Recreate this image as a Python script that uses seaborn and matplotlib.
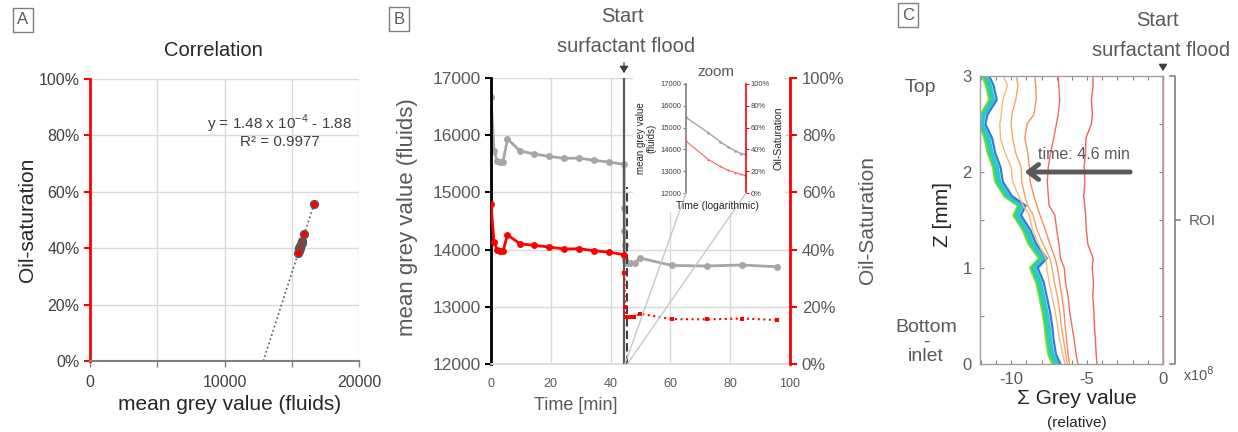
import matplotlib
matplotlib.use('Agg')
import matplotlib.pyplot as plt
import seaborn as sns
from matplotlib.patches import Rectangle, ConnectionPatch
from matplotlib.ticker import MultipleLocator, PercentFormatter

# ---- panel B data: mean grey value (fluids) and oil saturation over time ----
t_before = [0, 1, 2, 3, 4, 5.5, 9.7, 14.5, 19.5, 24.5, 29.5, 34.5, 39.5, 44.5]
grey_before = [16670, 15730, 15555, 15540, 15530, 15935, 15725, 15670, 15630,
               15595, 15600, 15560, 15530, 15490]
sat_before = [0.558, 0.427, 0.400, 0.396, 0.394, 0.452, 0.420, 0.415, 0.409,
              0.402, 0.403, 0.396, 0.391, 0.382]

t_after = [44.55, 44.6, 44.65, 44.7, 45.5, 46.5, 48.0, 49.8, 60.4, 72.1, 83.8, 95.5]
grey_after = [14727, 14318, 14086, 13823, 13766, 13760, 13760, 13853, 13724,
              13713, 13731, 13700]
t_sat_after = [44.6, 44.8, 45.2, 46.4, 47.9, 49.8, 60.4, 72.1, 83.8, 95.5]
sat_after = [0.318, 0.201, 0.166, 0.164, 0.164, 0.176, 0.157, 0.156, 0.159, 0.154]

t_flood = 44.5
t_dashed = 45.6
dashed_top = 15100

# inset (log time after flood)
t_zoom = [0.5, 2.8, 6.7, 12.6, 21.9, 34.7, 50]
grey_zoom = [15466, 14761, 14362, 14117, 13933, 13810, 13764]
sat_zoom = [0.475, 0.307, 0.245, 0.209, 0.187, 0.172, 0.156]

# ---- panel A: linear fit ----
fit_slope = 1.476e-4
fit_intercept = -1.902
fit_label = 'y = 1.48 x 10$^{\\mathregular{-4}}$ - 1.88\nR² = 0.9977'

# ---- panel C: vertical profiles (Z in mm, sum grey value x1e8) ----
z_mm = [0, 0.1, 0.25, 0.4, 0.55, 0.7, 0.85, 1.0, 1.1, 1.25, 1.4, 1.55, 1.65,
        1.75, 1.9, 2.05, 2.2, 2.35, 2.5, 2.6, 2.75, 2.9, 3.0]
prof_red1 = [-4.35, -4.4, -4.45, -4.52, -4.55, -4.62, -4.58, -4.66, -4.6, -4.95,
             -5.05, -5.1, -5.15, -5.22, -5.14, -5.2, -5.1, -5.08, -4.72, -4.65,
             -4.72, -4.6, -4.62]
prof_red2 = [-5.6, -5.72, -5.85, -6.0, -6.15, -6.25, -6.42, -6.5, -6.75, -6.85,
             -7.0, -7.12, -7.5, -7.55, -7.62, -7.55, -7.4, -7.2, -7.02, -6.9,
             -6.8, -6.86, -6.9]
prof_or3 = [-6.15, -6.25, -6.35, -6.45, -6.52, -6.65, -6.8, -6.95, -7.1, -7.45,
            -7.75, -8.1, -8.3, -8.5, -8.75, -8.8, -8.9, -9.1, -8.95, -8.5,
            -8.35, -8.38, -8.45]
prof_or4 = [-6.3, -6.4, -6.55, -6.7, -6.8, -6.95, -7.15, -7.3, -7.45, -7.9,
            -8.3, -8.55, -8.9, -9.1, -9.3, -9.35, -9.7, -9.9, -10.0, -9.95,
            -9.7, -9.55, -9.65]
prof_or5 = [-6.45, -6.6, -6.8, -6.95, -7.1, -7.3, -7.5, -7.65, -7.7, -8.2,
            -8.6, -8.8, -9.2, -9.5, -9.9, -10.0, -10.4, -10.7, -10.75, -10.65,
            -10.55, -10.25, -10.5]
bundle_blue = [-6.75, -7.05, -7.2, -7.3, -7.45, -7.65, -7.85, -8.25, -7.65, -8.35,
               -8.75, -9.35, -9.05, -9.95, -10.55, -10.7, -11.05, -11.25, -11.7,
               -11.55, -10.95, -11.15, -11.45]
bundle_cyan = [-6.95, -7.25, -7.4, -7.5, -7.65, -7.85, -8.05, -8.45, -7.85, -8.55,
               -8.95, -9.55, -9.25, -10.15, -10.75, -10.9, -11.25, -11.45, -11.9,
               -11.75, -11.15, -11.35, -11.65]
bundle_teal = [-7.1, -7.4, -7.55, -7.65, -7.8, -8.0, -8.2, -8.6, -8.0, -8.7,
               -9.1, -9.7, -9.4, -10.3, -10.9, -11.05, -11.4, -11.6, -12.0,
               -11.85, -11.3, -11.5, -11.75]
bundle_lime = [-7.25, -7.5, -7.65, -7.75, -7.9, -8.1, -8.3, -8.7, -8.1, -8.8,
               -9.2, -9.8, -9.5, -10.4, -11.0, -11.15, -11.5, -11.7, -12.05,
               -11.95, -11.4, -11.6, -11.85]
prof_zero = [0] * len(z_mm)

sns.set_theme(style='white')
plt.rcParams['font.family'] = ['Liberation Sans', 'DejaVu Sans']
plt.rcParams['axes.unicode_minus'] = False

W, H = 1238, 432
fig = plt.figure(figsize=(W / 100, H / 100), dpi=100)


def fx(px):
    return px / W


def fy(py):
    return 1 - py / H


dark = '#404040'
mid = '#595959'
gridc = '#d9d9d9'

# ---------------- Panel A ----------------
axA = fig.add_axes([fx(90), fy(361), fx(269), fy(79) - fy(361)])
sns.scatterplot(x=grey_before, y=sat_before, ax=axA, s=32, color='red',
                edgecolor='#595959', linewidth=1, zorder=3)
x0 = -fit_intercept / fit_slope
x1 = max(grey_before)
axA.plot([x0, x1], [fit_slope * x0 + fit_intercept, fit_slope * x1 + fit_intercept],
         ls=':', color='#595959', lw=1.2, zorder=2)
axA.set_xlim(0, 20000)
axA.set_ylim(0, 1)
axA.set_xticks([0, 5000, 10000, 15000, 20000])
axA.set_xticklabels(['0', '', '10000', '', '20000'])
axA.set_yticks([0, 0.2, 0.4, 0.6, 0.8, 1.0])
axA.yaxis.set_major_formatter(PercentFormatter(1.0, decimals=0))
axA.grid(True, color=gridc, lw=1)
for s in ['top', 'right']:
    axA.spines[s].set_visible(False)
axA.spines['left'].set_color('red')
axA.spines['left'].set_linewidth(2)
axA.spines['bottom'].set_color('#808080')
axA.spines['bottom'].set_linewidth(1.5)
axA.tick_params(axis='y', colors='red', labelcolor=dark, length=4, width=1.5,
                labelsize=11.5, left=True)
axA.tick_params(axis='x', colors='#808080', labelcolor=dark, length=4, width=1,
                labelsize=11.5, bottom=True, pad=6)
axA.text(0.706, 0.816, fit_label, transform=axA.transAxes, ha='center', va='center',
         fontsize=11, color=dark, linespacing=1.0)
fig.text(fx(213), fy(50), 'Correlation', ha='center', va='center', fontsize=14.5, color='#262626')
fig.text(fx(28), fy(220), 'Oil-saturation', rotation=90, ha='center', va='center',
         fontsize=15, color='#262626')
fig.text(fx(230), fy(405), 'mean grey value (fluids)', ha='center', va='center',
         fontsize=15, color='#262626')

# ---------------- Panel B ----------------
axB = fig.add_axes([fx(491), fy(364), fx(299), fy(78) - fy(364)])
axB2 = axB.twinx()
sns.lineplot(x=t_before + t_after, y=grey_before + grey_after, ax=axB, color='#a6a6a6',
             lw=2, marker='o', markersize=5, markeredgewidth=0, estimator=None, sort=False,
             zorder=2)
axB.plot([t_flood, t_flood], [12000, 17000], color=mid, lw=1.6, zorder=4)
axB.plot([t_dashed, t_dashed], [12000, dashed_top], color=dark, lw=1.5, ls=(0, (4, 2)), zorder=4)
axB.set_xlim(0, 100)
axB.set_ylim(12000, 17000)
axB.set_xticks([0, 20, 40, 60, 80, 100])
axB.set_yticks([12000, 13000, 14000, 15000, 16000, 17000])
axB.grid(True, color=gridc, lw=1)
axB.set_axisbelow(True)
for s in ['top', 'right']:
    axB.spines[s].set_visible(False)
axB.spines['left'].set_color('black')
axB.spines['left'].set_linewidth(2)
axB.spines['bottom'].set_color(gridc)
axB.tick_params(axis='y', colors='black', labelcolor=mid, length=4, width=1.5,
                labelsize=12.5, left=True)
axB.tick_params(axis='x', length=0, labelcolor=mid, labelsize=9, pad=10)

sns.lineplot(x=t_before, y=sat_before, ax=axB2, color='red', lw=2, marker='o',
             markersize=5, markeredgewidth=0, estimator=None, sort=False)
sns.lineplot(x=t_sat_after, y=sat_after, ax=axB2, color='red', lw=1.5, ls=':',
             marker='s', markersize=2.5, markeredgewidth=0, estimator=None, sort=False)
axB2.set_ylim(0, 1)
axB2.set_yticks([0, 0.2, 0.4, 0.6, 0.8, 1.0])
axB2.yaxis.set_major_formatter(PercentFormatter(1.0, decimals=0))
for s in ['top', 'left', 'bottom']:
    axB2.spines[s].set_visible(False)
axB2.spines['right'].set_color('red')
axB2.spines['right'].set_linewidth(2)
axB2.tick_params(axis='y', colors='red', labelcolor=mid, length=5, width=1.5,
                 labelsize=12, right=True)
axB2.set_ylabel('')

# white backing behind inset
axB.add_patch(Rectangle((fx(633), fy(212)), fx(152), fy(56) - fy(212),
                        transform=fig.transFigure, fc='white', ec='none', zorder=3,
                        clip_on=False))

fig.text(fx(407), fy(217), 'mean grey value (fluids)', rotation=90, ha='center',
         va='center', fontsize=16, color=mid)
fig.text(fx(868), fy(220), 'Oil-Saturation', rotation=90, ha='center', va='center',
         fontsize=15, color=mid)
fig.text(fx(576), fy(405), 'Time [min]', ha='center', va='center', fontsize=13, color=mid)
fig.text(fx(622), fy(17), 'Start', ha='center', va='center', fontsize=14.5, color=mid)
fig.text(fx(626), fy(46), 'surfactant flood', ha='center', va='center', fontsize=14.5,
         color=mid)
fig.add_artist(matplotlib.patches.FancyArrowPatch((fx(624), fy(60)), (fx(624), fy(76)),
               transform=fig.transFigure, arrowstyle='-|>,head_length=4,head_width=2.5',
               color='#404040', lw=1))

# inset
axIn = fig.add_axes([fx(686), fy(193), fx(60), fy(84) - fy(193)])
axIn.patch.set_alpha(0)
axIn2 = axIn.twinx()
sns.lineplot(x=t_zoom, y=grey_zoom, ax=axIn, color='#a6a6a6', lw=1, marker='o',
             markersize=2, markeredgewidth=0, estimator=None, sort=False)
sns.lineplot(x=t_zoom, y=sat_zoom, ax=axIn2, color='#ff6060', lw=0.8, marker='o',
             markersize=1.5, markeredgewidth=0, estimator=None, sort=False)
axIn.set_xscale('log')
axIn.set_xlim(t_zoom[0], t_zoom[-1])
axIn.set_ylim(12000, 17000)
axIn.set_yticks([12000, 13000, 14000, 15000, 16000, 17000])
axIn2.set_ylim(0, 1)
axIn2.set_yticks([0, 0.2, 0.4, 0.6, 0.8, 1.0])
axIn2.yaxis.set_major_formatter(PercentFormatter(1.0, decimals=0))
axIn.set_xticks([])
axIn.xaxis.set_minor_locator(matplotlib.ticker.NullLocator())
for a in (axIn, axIn2):
    for s in ['top', 'bottom']:
        a.spines[s].set_visible(False)
    a.set_ylabel('')
axIn.spines['right'].set_visible(False)
axIn2.spines['left'].set_visible(False)
axIn.spines['left'].set_color('#7f7f7f')
axIn.spines['left'].set_linewidth(1.2)
axIn2.spines['right'].set_color('red')
axIn2.spines['right'].set_linewidth(1.2)
axIn.tick_params(axis='y', colors='#7f7f7f', labelcolor=dark, length=2, width=0.8,
                 labelsize=5.5, left=True, pad=1.5)
axIn2.tick_params(axis='y', colors='red', labelcolor=dark, length=2, width=0.8,
                  labelsize=5.5, right=True, pad=1.5)
fig.text(fx(716), fy(72), 'zoom', ha='center', va='center', fontsize=11, color=mid)
fig.text(fx(717), fy(206), 'Time (logarithmic)', ha='center', va='center', fontsize=7.5,
         color='#262626')
fig.text(fx(646), fy(138), 'mean grey value\n(fluids)', rotation=90, ha='center',
         va='center', fontsize=7, color='#262626', linespacing=1.0)
fig.text(fx(779), fy(138), 'Oil-Saturation', rotation=90, ha='center', va='center',
         fontsize=7.5, color='#262626')

for xa, xb in [((t_flood + 0.3, 12000), (0, 0)), ((t_dashed, 12000), (1, 0))]:
    con = ConnectionPatch(xyA=xa, coordsA='data', axesA=axB, xyB=xb,
                          coordsB='axes fraction', axesB=axIn, color='#c8c8c8', lw=1)
    fig.add_artist(con)

# ---------------- Panel C ----------------
axC = fig.add_axes([fx(980), fy(364), fx(183), fy(76) - fy(364)])
c_profiles = [
    (bundle_lime, '#7fdc1e', 2.6),
    (bundle_teal, '#2ed19a', 2.4),
    (bundle_cyan, '#29c6d6', 2.2),
    (bundle_blue, '#2f7fd0', 1.6),
    (prof_or5, '#fdb776', 1.0),
    (prof_or4, '#fca164', 1.0),
    (prof_or3, '#fa8c5c', 1.0),
    (prof_red2, '#f46a58', 1.0),
    (prof_red1, '#f26355', 1.0),
    (prof_zero, '#f28a8a', 1.2),
]
for prof, col, lw in c_profiles:
    sns.lineplot(x=prof, y=z_mm, ax=axC, color=col, lw=lw, estimator=None, sort=False,
                 orient='y')
axC.set_xlim(-12.05, 0)
axC.set_ylim(0, 3)
axC.set_xticks([-10, -5, 0])
axC.set_yticks([0, 1, 2, 3])
axC.xaxis.set_minor_locator(MultipleLocator(1))
axC.yaxis.set_minor_locator(MultipleLocator(0.5))
for s in axC.spines.values():
    s.set_color('#a0a0a0')
    s.set_linewidth(1)
axC.tick_params(which='both', direction='in', top=True, right=True, bottom=True,
                left=True, color='#808080', length=3, width=0.8)
axC.tick_params(which='major', labelsize=12, labelcolor=mid, pad=6)
axC.set_xlabel('')
axC.set_ylabel('')
axC.annotate('', xy=(-9.3, 2.0), xytext=(-1.98, 2.0),
             arrowprops=dict(arrowstyle='->,head_length=0.6,head_width=0.45', lw=3.5,
                             color='#595959'))
axC.text(-5.2, 2.1, 'time: 4.6 min', ha='center', va='bottom', fontsize=11.5, color=mid)

# ROI bracket
roi_x = (1175 - 980) / 183
axC.plot([roi_x - 0.03, roi_x, roi_x, roi_x - 0.03], [0, 0, 1, 1], transform=axC.transAxes,
         color='#808080', lw=1.2, clip_on=False)
axC.plot([roi_x, roi_x + 0.03], [0.5, 0.5], transform=axC.transAxes, color='#808080',
         lw=1.2, clip_on=False)
fig.text(fx(1202), fy(221), 'ROI', ha='center', va='center', fontsize=11, color=mid)
fig.text(fx(1199), fy(375), 'x10$^{8}$', ha='center', va='center', fontsize=10.5, color=mid)

fig.text(fx(1157), fy(20), 'Start', ha='center', va='center', fontsize=14.5, color=mid)
fig.text(fx(1161), fy(50), 'surfactant flood', ha='center', va='center', fontsize=14.5,
         color=mid)
fig.add_artist(matplotlib.patches.FancyArrowPatch((fx(1163), fy(62)), (fx(1163), fy(74)),
               transform=fig.transFigure, arrowstyle='-|>,head_length=4,head_width=2.5',
               color='#404040', lw=1))
fig.text(fx(920), fy(88), 'Top', ha='center', va='center', fontsize=14, color=mid)
fig.text(fx(926), fy(342), 'Bottom\n-\ninlet', ha='center', va='center', fontsize=14,
         color=mid, linespacing=0.78)
fig.text(fx(943), fy(215), 'Z [mm]', rotation=90, ha='center', va='center', fontsize=15,
         color='#262626')
fig.text(fx(1077), fy(398), 'Σ Grey value', ha='center', va='center', fontsize=15,
         color='#262626')
fig.text(fx(1077), fy(423), '(relative)', ha='center', va='center', fontsize=11,
         color='#262626')

# panel letters
for lx, ly, letter in [(23, 20, 'A'), (399, 19, 'B'), (908, 15, 'C')]:
    fig.text(fx(lx), fy(ly), letter, ha='center', va='center', fontsize=12, color=mid,
             bbox=dict(boxstyle='square,pad=0.25', fc='white', ec='#7f7f7f', lw=1))

fig.savefig('out.png', dpi=100)
